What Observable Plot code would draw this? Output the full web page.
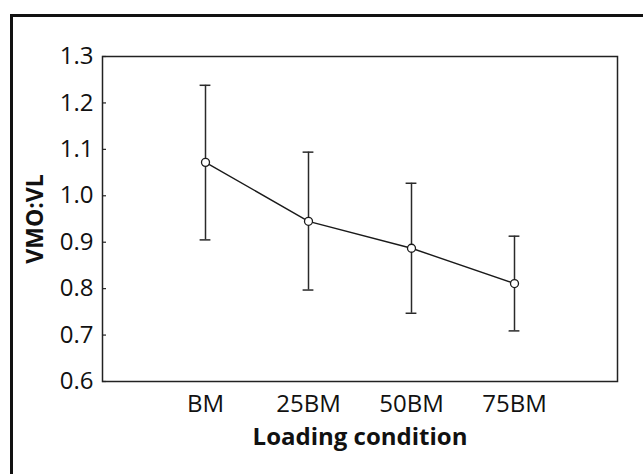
<!DOCTYPE html>
<html>
<head>
<meta charset="utf-8">
<script src="https://cdn.jsdelivr.net/npm/d3@7"></script>
<script src="https://cdn.jsdelivr.net/npm/@observablehq/plot@0.6"></script>
<style>
  html, body { margin: 0; padding: 0; background: #fff; overflow: hidden; width: 643px; height: 474px; }
  #outer { position: absolute; left: 10px; top: 14px; width: 700px; height: 500px;
           border-top: 3px solid #111; border-left: 3px solid #111; }
  #chart { position: absolute; left: 0; top: 0; }
</style>
</head>
<body>
<div id="outer"></div>
<div id="chart"></div>
<script>
const conditions = ["BM", "25BM", "50BM", "75BM"];
const means = [1.072, 0.945, 0.887, 0.811];
const upper = [1.238, 1.094, 1.027, 0.913];
const lower = [0.905, 0.797, 0.747, 0.709];
const yTicks = [0.6, 0.7, 0.8, 0.9, 1.0, 1.1, 1.2, 1.3];
const xLabel = "Loading condition";
const yLabel = "VMO:VL";

const data = conditions.map((c, i) => ({cond: c, mean: means[i], hi: upper[i], lo: lower[i]}));

const chart = Plot.plot({
  width: 643,
  height: 474,
  marginLeft: 102,
  marginTop: 56,
  marginRight: 26,
  marginBottom: 93,
  style: {fontFamily: "'Open Sans', sans-serif", fontSize: "24px", color: "#111", background: "transparent"},
  x: {type: "band", domain: conditions, paddingInner: 0.9, paddingOuter: 0.95},
  y: {domain: [0.6, 1.3]},
  marks: [
    Plot.frame({stroke: "#222", strokeWidth: 1.5}),
    Plot.axisY({ticks: yTicks, tickSize: 4, dx: 4, tickFormat: () => "", label: null, stroke: "#222", strokeWidth: 1.2}),
    Plot.axisY({ticks: yTicks, tickSize: 0, tickPadding: 9, tickFormat: d3.format(".1f"), label: null, fontSize: 24}),
    Plot.axisX({tickSize: 0, tickPadding: 13, label: null, fontSize: 24}),
    Plot.ruleX(data, {x: "cond", y1: "lo", y2: "hi", stroke: "#2a2a2a", strokeWidth: 1.5}),
    Plot.tickY(data, {x: "cond", y: "hi", insetLeft: -0.4, insetRight: -0.4, stroke: "#2a2a2a", strokeWidth: 1.5}),
    Plot.tickY(data, {x: "cond", y: "lo", insetLeft: -0.4, insetRight: -0.4, stroke: "#2a2a2a", strokeWidth: 1.5}),
    Plot.line(data, {x: "cond", y: "mean", stroke: "#1a1a1a", strokeWidth: 1.4}),
    Plot.dot(data, {x: "cond", y: "mean", r: 4, fill: "white", stroke: "#1a1a1a", strokeWidth: 1.3}),
    Plot.text([xLabel], {text: d => d, frameAnchor: "bottom", dy: 46, lineAnchor: "top", fontWeight: "bold", fontSize: 24, fill: "#111"}),
    Plot.text([yLabel], {text: d => d, frameAnchor: "left", dx: -67, rotate: -90, textAnchor: "middle", lineAnchor: "middle", fontWeight: "bold", fontSize: 23, fill: "#111"})
  ]
});
document.getElementById("chart").appendChild(chart);
</script>
</body>
</html>
